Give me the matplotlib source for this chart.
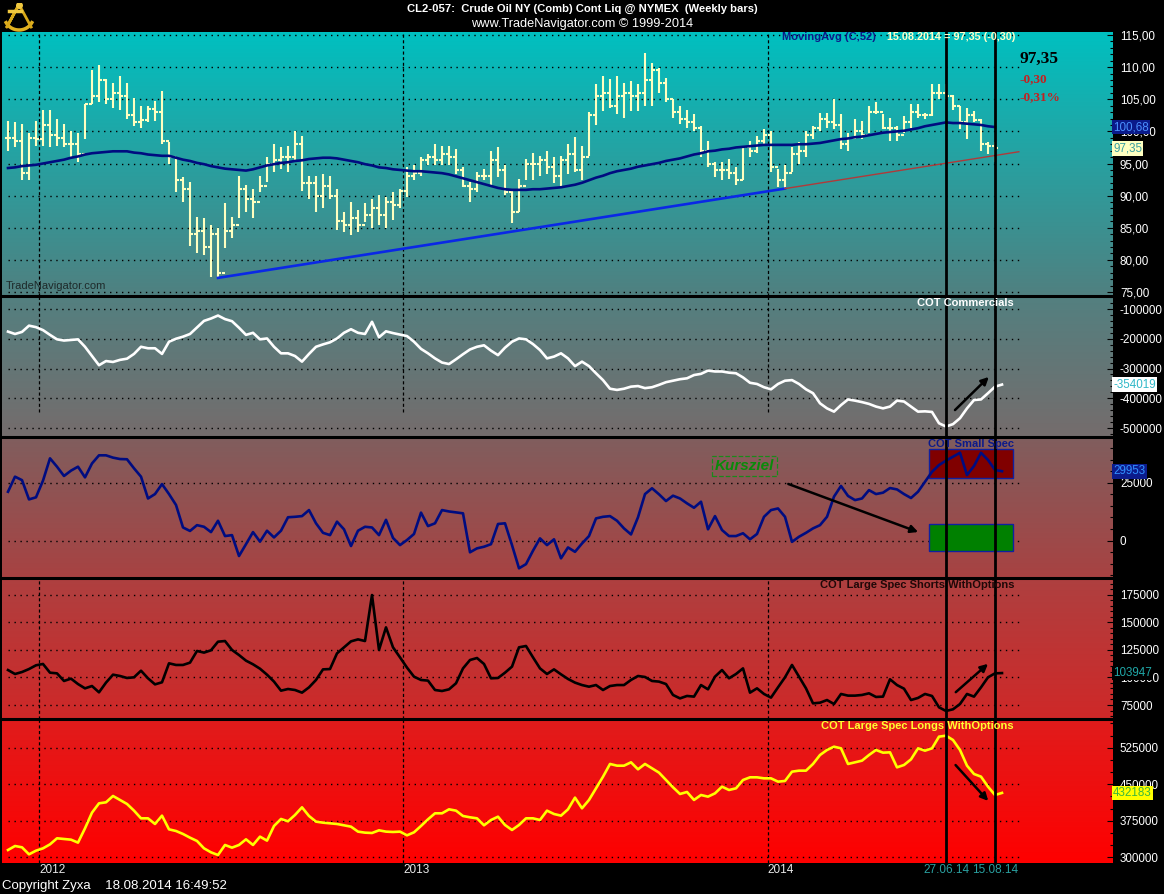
import numpy as np
import pandas as pd
import matplotlib
matplotlib.use('Agg')
import matplotlib.pyplot as plt
import matplotlib.transforms as mtransforms
from matplotlib.ticker import MultipleLocator, FuncFormatter
from matplotlib.patches import Rectangle

plt.rcParams['font.family'] = ['Liberation Sans', 'DejaVu Sans']

# weekly bars, CL2-057 crude oil (first bar 02.12.2011, last 15.08.2014)
high = [101.6, 101.5, 101.1, 99.8, 101.6, 103.4, 103.4, 101.9, 101.1, 100.1,
        99.8, 104.2, 109.6, 110.4, 108.1, 107.5, 108.6, 107.5, 105.2, 103.9,
        103.9, 104.7, 106.3, 98.3, 95.7, 92.9, 92.1, 86.7, 86.5, 85.4,
        84.9, 88.8, 86.7, 93.1, 91.6, 91.1, 93.1, 96.0, 98.0, 97.5,
        97.8, 100.1, 99.3, 93.1, 93.1, 93.4, 93.1, 91.1, 87.5, 89.0,
        87.7, 88.8, 89.5, 90.1, 89.8, 90.6, 91.1, 94.4, 94.7, 96.0,
        96.5, 98.0, 97.8, 97.8, 97.3, 94.4, 92.1, 93.7, 94.2, 97.0,
        97.5, 94.7, 91.1, 92.6, 95.7, 96.7, 96.2, 97.0, 96.0, 96.2,
        98.0, 99.1, 97.8, 103.0, 107.3, 108.6, 108.1, 108.6, 107.5, 107.8,
        107.3, 112.2, 110.6, 109.9, 108.3, 105.0, 103.9, 103.4, 102.7, 100.9,
        98.5, 95.2, 95.2, 95.7, 94.4, 97.8, 98.5, 99.3, 100.3, 100.1,
        94.2, 94.7, 97.5, 98.3, 100.1, 100.9, 102.9, 102.9, 105.0, 102.7,
        99.8, 101.9, 101.6, 103.9, 104.5, 102.7, 102.1, 100.9, 102.4, 104.2,
        104.2, 102.9, 107.3, 107.3, 107.3, 105.7, 103.9, 103.7, 103.2, 101.9,
        98.3, 98.3]
low = [97.0, 97.5, 92.4, 92.4, 97.8, 97.8, 97.5, 97.8, 97.5, 96.0,
       95.2, 98.8, 104.2, 104.5, 104.2, 103.7, 103.4, 101.9, 100.9, 100.6,
       101.4, 101.6, 98.0, 95.0, 90.6, 89.0, 82.1, 81.0, 80.8, 77.4,
       77.2, 81.8, 83.4, 86.5, 87.5, 86.5, 90.6, 92.1, 93.7, 94.2,
       93.7, 95.2, 90.8, 89.5, 87.5, 88.0, 89.5, 84.6, 84.4, 83.9,
       84.4, 85.9, 84.9, 85.4, 84.9, 86.2, 88.0, 89.8, 92.4, 93.1,
       94.7, 94.7, 94.7, 94.7, 93.4, 91.3, 89.0, 90.6, 92.4, 91.6,
       92.9, 90.1, 85.7, 87.5, 92.4, 92.4, 93.1, 93.4, 91.9, 91.3,
       93.4, 93.7, 92.4, 96.2, 101.0, 103.2, 103.7, 102.7, 102.1, 103.2,
       103.2, 103.9, 104.0, 106.0, 104.5, 102.1, 101.1, 100.6, 100.1, 96.0,
       94.4, 92.9, 92.4, 92.6, 91.6, 92.4, 96.0, 96.7, 97.8, 93.7,
       91.3, 91.1, 93.7, 95.0, 96.0, 98.8, 100.1, 100.6, 100.3, 97.3,
       97.0, 98.8, 98.8, 99.8, 102.7, 100.3, 98.5, 98.5, 99.8, 100.6,
       102.1, 101.9, 102.4, 105.0, 105.0, 103.4, 100.3, 98.8, 101.4, 97.0,
       96.5, 95.2]
close = [99.0, 98.5, 93.5, 99.0, 98.8, 101.0, 99.5, 99.0, 98.0, 98.0,
         96.5, 104.2, 105.5, 108.0, 105.0, 106.0, 105.5, 102.5, 101.5, 101.8,
         103.5, 103.0, 98.5, 96.0, 92.5, 91.0, 84.0, 84.5, 82.0, 84.0,
         78.0, 84.5, 85.5, 91.0, 89.5, 89.0, 91.5, 95.0, 95.5, 96.0,
         96.0, 98.0, 92.0, 92.0, 90.0, 91.5, 90.0, 86.0, 85.5, 86.5,
         85.5, 87.0, 88.0, 87.0, 89.0, 88.5, 90.8, 93.0, 93.5, 95.5,
         96.0, 95.5, 96.5, 96.0, 94.0, 91.5, 91.0, 93.0, 93.0, 95.5,
         94.0, 90.5, 87.5, 91.5, 95.0, 95.0, 95.5, 94.5, 93.0, 95.5,
         96.5, 94.0, 96.0, 102.5, 105.5, 106.0, 104.0, 105.5, 106.0, 105.5,
         106.0, 108.0, 109.5, 107.5, 105.0, 103.0, 102.0, 101.5, 100.5, 97.0,
         95.0, 94.0, 94.0, 93.5, 92.5, 97.5, 97.0, 98.5, 99.5, 94.5,
         92.5, 93.5, 96.5, 97.0, 99.5, 100.5, 102.0, 101.5, 101.0, 98.0,
         99.0, 100.0, 99.5, 103.0, 103.0, 100.5, 100.5, 99.5, 101.5, 103.0,
         102.5, 102.5, 106.0, 106.0, 105.5, 104.0, 101.5, 102.5, 101.7, 98.0,
         97.65, 97.35]
ma52 = [94.3, 94.4, 94.6, 94.7, 94.8, 95.0, 95.2, 95.4, 95.6, 95.9,
        96.1, 96.4, 96.6, 96.7, 96.8, 96.9, 96.9, 96.9, 96.7, 96.6,
        96.4, 96.3, 96.2, 96.2, 95.9, 95.6, 95.4, 95.1, 94.9, 94.6,
        94.4, 94.2, 94.1, 94.0, 93.9, 94.1, 94.4, 94.7, 94.9, 95.1,
        95.2, 95.4, 95.5, 95.7, 95.8, 95.9, 95.9, 95.8, 95.6, 95.4,
        95.2, 94.9, 94.7, 94.4, 94.3, 94.1, 94.0, 93.9, 93.8, 93.8,
        93.7, 93.6, 93.5, 93.3, 93.0, 92.7, 92.4, 92.1, 91.8, 91.5,
        91.2, 91.0, 90.9, 90.9, 90.9, 91.0, 91.0, 91.1, 91.2, 91.3,
        91.5, 91.7, 92.0, 92.4, 92.8, 93.1, 93.5, 93.8, 94.0, 94.2,
        94.5, 94.7, 94.9, 95.1, 95.4, 95.6, 95.8, 96.1, 96.4, 96.6,
        96.9, 97.0, 97.2, 97.3, 97.5, 97.6, 97.7, 97.8, 97.9, 97.9,
        97.9, 97.9, 97.9, 98.0, 98.0, 98.1, 98.2, 98.4, 98.6, 98.8,
        98.9, 99.1, 99.2, 99.4, 99.6, 99.8, 99.9, 100.0, 100.1, 100.3,
        100.5, 100.8, 101.0, 101.2, 101.4, 101.3, 101.3, 101.2, 101.1, 101.0,
        100.8, 100.68]

# COT series (one value more than the price bars)
commercials = [-176000, -184000, -177000, -156000, -161000, -171000, -187000, -202000, -206000, -204000,
               -202000, -227000, -258000, -289000, -275000, -278000, -271000, -267000, -251000, -227000,
               -232000, -232000, -251000, -210000, -200000, -193000, -184000, -162000, -140000, -132000,
               -122000, -134000, -141000, -163000, -187000, -180000, -202000, -199000, -227000, -249000,
               -249000, -258000, -277000, -251000, -227000, -219000, -212000, -199000, -180000, -168000,
               -180000, -184000, -143000, -195000, -175000, -181000, -186000, -191000, -210000, -234000,
               -249000, -266000, -280000, -285000, -269000, -252000, -236000, -227000, -222000, -240000,
               -255000, -230000, -210000, -199000, -202000, -218000, -238000, -266000, -260000, -249000,
               -266000, -292000, -277000, -292000, -316000, -339000, -368000, -372000, -368000, -361000,
               -359000, -366000, -363000, -355000, -346000, -341000, -336000, -333000, -322000, -318000,
               -307000, -310000, -310000, -314000, -316000, -330000, -348000, -352000, -363000, -370000,
               -352000, -341000, -339000, -352000, -370000, -383000, -417000, -434000, -445000, -423000,
               -404000, -408000, -413000, -419000, -428000, -434000, -428000, -408000, -411000, -428000,
               -445000, -444000, -446000, -484000, -495000, -487000, -467000, -434000, -406000, -404000,
               -383000, -361000, -354019]
small_spec = [21100, 27600, 26100, 17800, 18700, 25900, 35500, 31900, 27900, 30200,
              31900, 27300, 33300, 36800, 36800, 35800, 35200, 35100, 31200, 27600,
              18200, 20100, 24400, 20100, 15400, 5700, 4200, 6700, 6000, 3700,
              8600, 2000, 2400, -6600, -1500, 3700, -400, 4300, 1400, 4300,
              10100, 10300, 10600, 13200, 7500, 3400, 2400, 8200, 4900, -2300,
              4300, 6000, 5700, 2400, 9000, 1200, -1900, 300, 2900, 12100,
              6300, 7500, 13200, 12600, 12200, 11800, -5000, -3300, -2600, -1500,
              7200, 7500, -1900, -11900, -10100, -4300, 1000, -1900, 600, -7600,
              -2900, -4800, -1200, 2000, 9600, 10300, 10600, 8600, 5300, 2700,
              10100, 20100, 22600, 20000, 17100, 19400, 18200, 16100, 14200, 16800,
              4900, 10600, 4600, 2000, 2000, 3200, 600, 2900, 10300, 13200,
              13900, 10300, -500, 1700, 3400, 5300, 6700, 10300, 19000, 23600,
              19300, 17500, 18200, 21800, 20100, 20700, 22700, 22100, 20100, 18400,
              21100, 25400, 29700, 32600, 34500, 36200, 37900, 28300, 32200, 37900,
              34800, 30500, 29953]
large_shorts = [106700, 103100, 104900, 107600, 111000, 112200, 104300, 103700, 96800, 98900,
                94000, 90100, 92200, 86500, 95300, 102500, 101300, 99500, 100100, 106100,
                99200, 93700, 95600, 112800, 111300, 111300, 113400, 124000, 122500, 124600,
                132400, 133000, 124900, 120300, 115200, 111900, 107900, 102500, 96200, 88000,
                89500, 88600, 86200, 91000, 97700, 107300, 107600, 121800, 127300, 132700,
                134500, 133000, 174700, 124900, 145400, 127300, 118200, 108900, 100700, 97700,
                97100, 88600, 87700, 89200, 94700, 108200, 115800, 117600, 112200, 99200,
                99500, 104300, 109800, 127300, 128500, 118200, 108200, 103100, 107300, 102800,
                98600, 95300, 93100, 91600, 93100, 88600, 92200, 93100, 93100, 97700,
                101300, 100400, 96800, 96200, 94000, 84100, 81000, 83200, 82600, 93100,
                89200, 100700, 106700, 99200, 103100, 108200, 86200, 90100, 85000, 81700,
                91000, 100100, 111300, 100700, 90100, 76500, 77100, 79500, 75900, 85000,
                83500, 83500, 84100, 85600, 82300, 82600, 98300, 93100, 89800, 79500,
                81400, 85000, 83200, 72900, 69600, 71100, 75900, 85000, 82600, 91000,
                100100, 103700, 103947]
large_longs = [315000, 323200, 320500, 306100, 313600, 318400, 326600, 339000, 337600, 336200,
               330100, 359500, 391700, 410800, 412900, 425900, 417700, 409500, 395800, 380000,
               380000, 368400, 385500, 357400, 354000, 347900, 340300, 333500, 318400, 310200,
               304700, 325300, 319800, 325300, 336900, 325300, 342400, 334200, 364300, 378700,
               373900, 386900, 402600, 384800, 373200, 371100, 369800, 368400, 365700, 362900,
               352700, 350600, 349900, 355400, 352700, 352000, 352700, 345100, 351300, 364300,
               378000, 390300, 390300, 398500, 395800, 384800, 382100, 380000, 365700, 376600,
               383400, 366300, 356100, 366300, 380000, 380000, 376600, 395800, 388900, 385500,
               398500, 422500, 400600, 417700, 441600, 465400, 491600, 488100, 488100, 495000,
               480600, 491600, 482700, 473800, 458700, 443700, 430000, 434100, 417700, 427900,
               424500, 431300, 445000, 438200, 441600, 458700, 464200, 464200, 462100, 462100,
               455300, 456700, 475800, 477900, 477900, 491600, 510000, 520300, 527100, 523700,
               491600, 495000, 498400, 510000, 520300, 514800, 515500, 484700, 489500, 501100,
               523700, 518900, 523700, 547700, 549700, 540800, 520300, 488100, 471000, 465600,
               445000, 427900, 432183]

trend_idx = [30, 111]          # trend line anchored on the lows of these bars
mark_dates = ['2014-06-27', '2014-08-15']

dates = pd.date_range('2011-12-02', periods=len(close), freq='7D')
x = np.arange(len(close))
xc = np.arange(len(commercials))
opens = np.r_[close[0], close[:-1]]

W, H = 1164, 894
fig = plt.figure(figsize=(W / 100, H / 100), dpi=100, facecolor='black')


def fx(px):
    return px / W


def fy(py):
    return 1 - py / H


def de(v):
    return f"{v:.2f}".replace('.', ',')


bounds = [(32, 296), (296, 437), (437, 578), (578, 719), (719, 863)]
grads = [('#00c0c0', '#508080'), ('#538080', '#756c6c'), ('#805e5e', '#a84242'),
         ('#ae4040', '#cf2828'), ('#e01c1c', '#ff0000')]
ylims = [(74.38, 115.47), (-530250, -56300), (-16080, 44700), (62310, 190140), (288300, 583920)]
majors = [5, 100000, 25000, 25000, 75000]
minors = [1, 20000, 5000, 5000, 25000]
xlim = (-0.857, 157.857)
grid_end = 144.4
lab_fs = 8.4

year_pos = [i - 0.5 for i in range(1, len(dates)) if dates[i].year != dates[i - 1].year]
mark_pos = [int(np.where(dates == pd.Timestamp(d))[0][0]) for d in mark_dates]

axes = []
for k, (top, bot) in enumerate(bounds):
    ax = fig.add_axes([fx(2), fy(bot), fx(1111), (bot - top) / H])
    c0 = np.array(matplotlib.colors.to_rgb(grads[k][0]))
    c1 = np.array(matplotlib.colors.to_rgb(grads[k][1]))
    t = np.linspace(0, 1, 256)[:, None]
    img = (c0 * (1 - t) + c1 * t)[:, None, :]
    ax.imshow(img, extent=[0, 1, 0, 1], transform=ax.transAxes, aspect='auto', zorder=0)
    ax.set_xlim(*xlim)
    ax.set_ylim(*ylims[k])
    for s in ax.spines.values():
        s.set_visible(False)
    if k > 0:
        ax.spines['top'].set_visible(True)
        ax.spines['top'].set_color('black')
        ax.spines['top'].set_linewidth(2.2)
    ax.set_xticks([])
    ax.yaxis.set_major_locator(MultipleLocator(majors[k]))
    ax.yaxis.set_minor_locator(MultipleLocator(minors[k]))
    if k == 0:
        ax.yaxis.set_major_formatter(FuncFormatter(lambda v, p: de(v)))
    else:
        ax.yaxis.set_major_formatter(FuncFormatter(lambda v, p: f"{v:.0f}"))
    ax.tick_params(axis='y', which='both', direction='in', right=True, left=False,
                   labelright=True, labelleft=False, colors='black', labelcolor='white',
                   labelsize=lab_fs, pad=5, width=0.8)
    ax.tick_params(axis='y', which='major', length=4.5)
    ax.tick_params(axis='y', which='minor', length=2.2)
    lo, hi = ylims[k]
    for v in np.arange(np.ceil(lo / majors[k]) * majors[k], hi, majors[k]):
        ax.hlines(v, 0, grid_end, colors='black', linestyles=(0, (1, 3.3)), lw=1, zorder=1)
    if k != 2:
        ymin = 0.177 if k == 1 else 0
        for yp in year_pos:
            ax.axvline(yp, ymin=ymin, ymax=1, color='black', lw=0.9, ls=(0, (2.5, 2)), zorder=1)
    for mp in mark_pos:
        ax.axvline(mp, color='black', lw=2, zorder=4)
    axes.append(ax)

ax0, ax1, ax2, ax3, ax4 = axes
ytr = [a.get_yaxis_transform() for a in axes]

# price panel
ax0.vlines(x, low, high, colors='#ffffc0', lw=1.5, zorder=3)
ax0.hlines(opens, x - 0.45, x, colors='#ffffc0', lw=1.5, zorder=3)
ax0.hlines(close, x, x + 0.45, colors='#ffffc0', lw=1.5, zorder=3)
ax0.plot(x, ma52, color='#000c80', lw=1.9, zorder=3)
t0, t1 = trend_idx
p0, p1 = low[t0], low[t1]
slope = (p1 - p0) / (t1 - t0)
ax0.plot([t0, t1], [p0, p1], color='#0a28e6', lw=1.9, zorder=3)
ax0.plot([t1, grid_end], [p1, p1 + slope * (grid_end - t1)], color='#b03a3a', lw=1, zorder=3)
ax0.text(0.003, 0.025, 'TradeNavigator.com', transform=ax0.transAxes, color='#1e2a2a', fontsize=8)

ax0.text(1.0, ma52[-1], de(ma52[-1]), transform=ytr[0], ha='left', va='center',
         color='#4a90ff', fontsize=lab_fs, bbox=dict(boxstyle='square,pad=0.12', fc='#0a1a8a', ec='none'))
ax0.text(1.0, close[-1], de(close[-1]), transform=ytr[0], ha='left', va='center',
         color='#3aa0a0', fontsize=lab_fs, bbox=dict(boxstyle='square,pad=0.12', fc='#ffffc0', ec='none'))

chg = close[-1] - close[-2]
fig.text(fx(782), fy(37), 'MovingAvg (C,52)', color='#0c1a8a', fontsize=8, fontweight='bold', va='center')
fig.text(fx(887), fy(37), f"{dates[-1]:%d.%m.%Y} = {de(close[-1])} ({de(chg)})", color='#ffffc8',
         fontsize=7.8, fontweight='bold', va='center')
fig.text(fx(1020), fy(59), de(close[-1]), color='black', fontsize=12.5,
         fontweight='bold', family='Liberation Serif', va='center')
fig.text(fx(1020), fy(79), de(chg), color='#c42020', fontsize=9.5,
         fontweight='bold', family='Liberation Serif', va='center')
fig.text(fx(1020), fy(97), de(chg / close[-2] * 100) + '%', color='#c42020', fontsize=9.5,
         fontweight='bold', family='Liberation Serif', va='center')

# COT Commercials
ax1.plot(xc, commercials, color='white', lw=1.9, zorder=3)
ax1.annotate('', xy=(140.4, -321800), xytext=(135.0, -446200),
             arrowprops=dict(arrowstyle='-|>', color='black', lw=1.8, mutation_scale=11), zorder=5)
ax1.text(1.0, commercials[-1], str(commercials[-1]), transform=ytr[1], ha='left', va='center',
         color='#30b8c8', fontsize=lab_fs, bbox=dict(boxstyle='square,pad=0.12', fc='white', ec='none'))

# COT Small Spec
ax2.add_patch(Rectangle((131.6, 27030), 12.0, 12490, fc='#800000', ec='#1020a0', lw=1, zorder=2))
ax2.add_patch(Rectangle((131.6, -4440), 12.0, 11640, fc='#008000', ec='#1020a0', lw=1, zorder=2))
ax2.plot(xc, small_spec, color='#000c80', lw=1.9, zorder=3)
ax2.annotate('', xy=(130.4, 3320), xytext=(111.1, 24870),
             arrowprops=dict(arrowstyle='-|>', color='black', lw=1.8, mutation_scale=11), zorder=5)
ax2.text(105.2, 32110, 'Kursziel', color='#0a8a0a', fontsize=11, fontstyle='italic', fontweight='bold',
         ha='center', va='center',
         bbox=dict(boxstyle='square,pad=0.2', fc='none', ec='#1a8a1a', ls='--', lw=0.9))
ax2.text(1.0, small_spec[-1], str(small_spec[-1]), transform=ytr[2], ha='left', va='center',
         color='#3090ff', fontsize=lab_fs, bbox=dict(boxstyle='square,pad=0.12', fc='#0c1c8c', ec='none'))

# COT Large Spec Shorts
ax3.plot(xc, large_shorts, color='black', lw=1.9, zorder=3)
ax3.annotate('', xy=(140.3, 113990), xytext=(135.1, 84970),
             arrowprops=dict(arrowstyle='-|>', color='black', lw=1.8, mutation_scale=11), zorder=5)
ax3.text(1.0, large_shorts[-1], str(large_shorts[-1]), transform=ytr[3], ha='left', va='center',
         color='#20a8a8', fontsize=lab_fs, bbox=dict(boxstyle='square,pad=0.12', fc='black', ec='none'))

# COT Large Spec Longs
ax4.plot(xc, large_longs, color='#ffff00', lw=1.9, zorder=3)
ax4.annotate('', xy=(140.3, 411470), xytext=(135.1, 493590),
             arrowprops=dict(arrowstyle='-|>', color='black', lw=1.8, mutation_scale=11), zorder=5)
ax4.text(1.0, large_longs[-1], str(large_longs[-1]), transform=ytr[4], ha='left', va='center',
         color='#3cb83c', fontsize=lab_fs, bbox=dict(boxstyle='square,pad=0.12', fc='#ffff00', ec='none'))

# panel titles
fig.text(fx(1014), fy(303), 'COT Commercials', color='white', fontsize=8, fontweight='bold', ha='right', va='center')
fig.text(fx(1014), fy(444), 'COT Small Spec', color='#0c1a8a', fontsize=8, fontweight='bold', ha='right', va='center')
fig.text(fx(1014), fy(585), 'COT Large Spec Shorts WithOptions', color='#200808', fontsize=8,
         fontweight='bold', ha='right', va='center')
fig.text(fx(1014), fy(726), 'COT Large Spec Longs WithOptions', color='#ffff30', fontsize=8,
         fontweight='bold', ha='right', va='center')

# header / footer
fig.text(fx(582), fy(9), 'CL2-057:  Crude Oil NY (Comb) Cont Liq @ NYMEX  (Weekly bars)', color='white',
         fontsize=8.1, fontweight='bold', ha='center', va='center')
fig.text(fx(582), fy(24), 'www.TradeNavigator.com \u00a9 1999-2014', color='white', fontsize=9.2,
         ha='center', va='center')
fig.text(fx(2), fy(886), 'Copyright Zyxa    18.08.2014 16:49:52', color='white', fontsize=9.5, va='center')

btr = mtransforms.blended_transform_factory(ax4.transData, fig.transFigure)
for yp in year_pos:
    fig.text(yp, fy(870), str(dates[int(yp + 0.5)].year), transform=btr, color='#e8e8e8', fontsize=8.5,
             ha='left', va='center')
for mp in mark_pos:
    fig.text(mp, fy(870), f"{dates[mp]:%d.%m.%y}", transform=btr, color='#2aa0a0', fontsize=8.5,
             ha='center', va='center')

# small golden sextant logo
logo = fig.add_axes([fx(3), fy(33), fx(32), 30 / H])
logo.set_xlim(0, 1)
logo.set_ylim(0, 1)
logo.axis('off')
th = np.linspace(np.pi * 1.15, np.pi * 1.85, 30)
logo.plot(0.5 + 0.45 * np.cos(th), 0.55 + 0.45 * np.sin(th), color='#e0b020', lw=2.5)
logo.plot([0.5, 0.12, 0.5, 0.88], [0.95, 0.2, 0.95, 0.2], color='#d8a818', lw=2)
logo.plot([0.2, 0.55], [0.75, 0.75], color='#f0c840', lw=2.5)
logo.plot([0.5], [0.95], marker='o', color='#f0c840', ms=4)

fig.savefig('out.png', dpi=100, facecolor='black')
